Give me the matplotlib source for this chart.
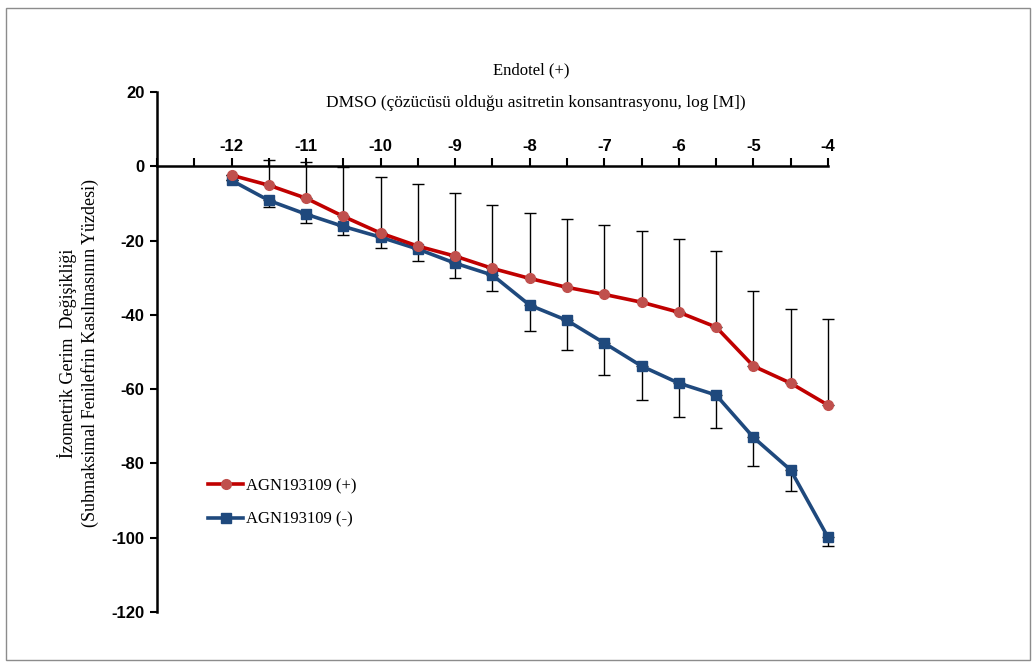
import matplotlib
matplotlib.use("Agg")
import matplotlib.pyplot as plt
from matplotlib.patches import Rectangle
import numpy as np

# log concentration steps
log_conc = [-12, -11.5, -11, -10.5, -10, -9.5, -9, -8.5, -8,
            -7.5, -7, -6.5, -6, -5.5, -5, -4.5, -4]

# AGN193109 (+): mean and upper error
agn_plus = [-2.4, -5.1, -8.6, -13.5, -18.0, -21.5, -24.2, -27.5, -30.2,
            -32.6, -34.5, -36.6, -39.3, -43.3, -53.8, -58.4, -64.3]
agn_plus_err = [0.0, 6.7, 9.7, 13.2, 15.1, 16.7, 16.9, 17.2, 17.6,
                18.3, 18.6, 19.2, 19.8, 20.4, 20.2, 19.9, 23.1]

# AGN193109 (-): mean and lower error
agn_minus = [-3.8, -9.2, -12.9, -16.2, -19.1, -22.3, -26.1, -29.3, -37.4,
             -41.5, -47.6, -53.8, -58.4, -61.6, -73.0, -81.8, -99.9]
agn_minus_err = [0.0, 1.8, 2.4, 2.4, 3.0, 3.3, 4.0, 4.2, 7.0,
                 8.0, 8.7, 9.2, 9.2, 8.9, 7.8, 5.7, 2.4]

x_ticks = np.arange(-13, -3.9, 0.5)
x_labels = [str(int(t)) if (t == int(t) and t > -13) else "" for t in x_ticks]
y_ticks = [-120, -100, -80, -60, -40, -20, 0, 20]

red_line = "#C00000"
red_marker = "#C0504D"
blue = "#1F497D"
serif = "Liberation Serif"
sans = "Liberation Sans"

fig = plt.figure(figsize=(10.36, 6.66), dpi=100)
ax = fig.add_axes([157 / 1036, 1 - 612 / 666, (828 - 157) / 1036, (612 - 92) / 666])

# error bars (one-sided)
zeros = [0] * len(log_conc)
for c in ax.errorbar(log_conc, agn_plus, yerr=[zeros, agn_plus_err], fmt="none",
                     ecolor="black", elinewidth=1, capsize=4.5, capthick=1,
                     zorder=2).get_children():
    c.set_clip_on(False)
for c in ax.errorbar(log_conc, agn_minus, yerr=[agn_minus_err, zeros], fmt="none",
                     ecolor="black", elinewidth=1, capsize=4.5, capthick=1,
                     zorder=2).get_children():
    c.set_clip_on(False)

ax.plot(log_conc, agn_plus, color=red_line, lw=2.6, marker="o", ms=7,
        mfc=red_marker, mec=red_marker, label="AGN193109 (+)", zorder=4,
        clip_on=False)
ax.plot(log_conc, agn_minus, color=blue, lw=2.6, marker="s", ms=6.5,
        mfc=blue, mec=blue, label="AGN193109 (-)", zorder=3, clip_on=False)

ax.set_xlim(-13, -4)
ax.set_ylim(-120, 20)

for s in ["right", "bottom"]:
    ax.spines[s].set_visible(False)
ax.spines["top"].set_position(("data", 0))
ax.spines["top"].set_linewidth(1.8)
ax.spines["left"].set_linewidth(1.8)

ax.xaxis.set_ticks_position("top")
ax.set_xticks(x_ticks)
ax.set_xticklabels(x_labels, fontfamily=sans, fontweight="bold", fontsize=12)
ax.tick_params(axis="x", direction="out", length=6, width=1.5, pad=3)
ax.set_yticks(y_ticks)
ax.set_yticklabels([str(v) for v in y_ticks], fontfamily=sans,
                   fontweight="bold", fontsize=12)
ax.tick_params(axis="y", direction="out", length=5, width=1.5, pad=4)

fig.text(531 / 1036, 1 - 70 / 666, "Endotel (+)", ha="center", va="center",
         fontfamily=serif, fontsize=12)
fig.text(536 / 1036, 1 - 103 / 666,
         "DMSO (çözücüsü olduğu asitretin konsantrasyonu, log [M])",
         ha="center", va="center", fontfamily=serif, fontsize=12.5)
fig.text(78 / 1036, 1 - 353 / 666,
         "İzometrik Gerim  Değişikliği\n(Submaksimal Fenilefrin Kasılmasının Yüzdesi)",
         ha="center", va="center", rotation=90, fontfamily=serif,
         fontsize=13, linespacing=1.3)

leg = ax.legend(loc="upper left", bbox_to_anchor=(193 / 1036, 1 - 463 / 666),
                bbox_transform=fig.transFigure, frameon=False,
                prop={"family": serif, "size": 12}, handlelength=2.1,
                handletextpad=0.2, labelspacing=1.05)

fig.patches.append(Rectangle((6 / 1036, 1 - 660 / 666), 1024 / 1036, 652 / 666,
                             transform=fig.transFigure, fill=False,
                             edgecolor="#8c8c8c", lw=1))

fig.savefig("out.png", dpi=100)
